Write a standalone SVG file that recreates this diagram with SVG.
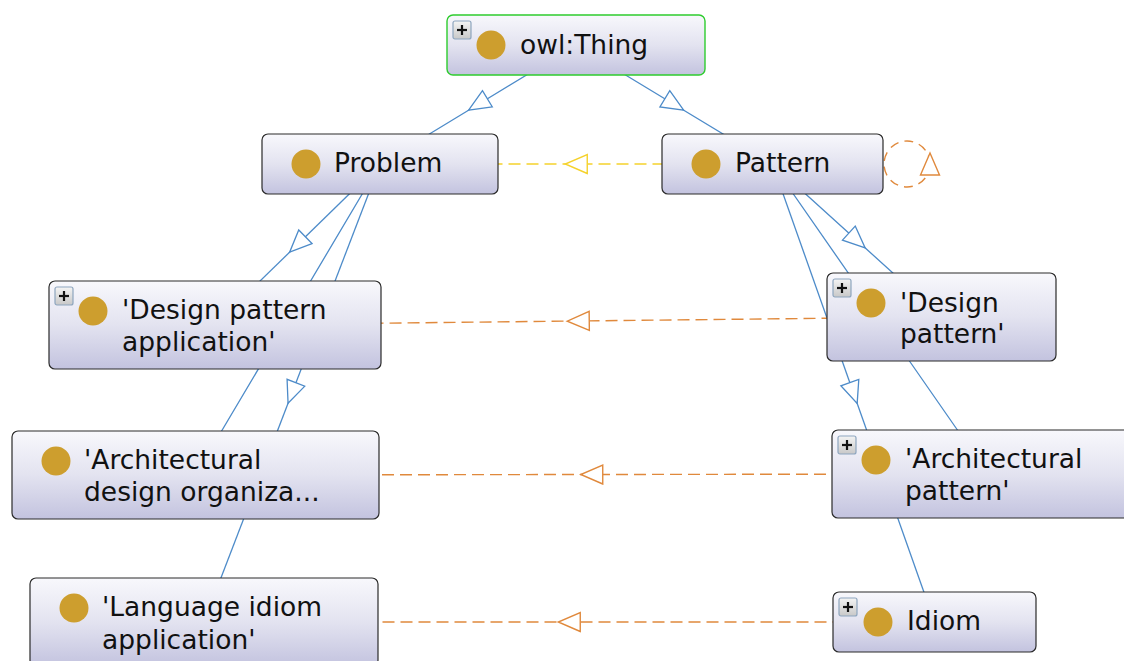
<svg xmlns="http://www.w3.org/2000/svg" width="1124" height="661" viewBox="0 0 1124 661">
<defs>
<style>
.box{fill:url(#nodeGrad);stroke:#2a2a2a;stroke-width:1.2}
.root{stroke:#2ecc2e;stroke-width:1.4}
.lbl{font-family:"DejaVu Sans","Liberation Sans",sans-serif;font-size:26.5px;fill:#111}
.dot{fill:#cd9e2d;filter:url(#soft)}
.isa{fill:none;stroke:#4d8bc9;stroke-width:1.3;marker-mid:url(#triBlue)}
.dis{fill:none;stroke:#e0893c;stroke-width:1.4;stroke-dasharray:12 6;marker-mid:url(#triOrange)}
.yel{fill:none;stroke:#f5d22c;stroke-width:1.4;stroke-dasharray:12 6;marker-mid:url(#triYellow)}
.loop{fill:none;stroke:#e0893c;stroke-width:1.4;stroke-dasharray:9 6}
.pbox{fill:url(#plusGrad);stroke:#8ea6bf;stroke-width:1.2}
.pl{stroke:#111;stroke-width:2.2}
</style>
<linearGradient id="nodeGrad" x1="0" y1="0" x2="0" y2="1">
<stop offset="0" stop-color="#f8f8fc"/>
<stop offset="0.5" stop-color="#e3e3f0"/>
<stop offset="1" stop-color="#c3c3df"/>
</linearGradient>
<linearGradient id="plusGrad" x1="0" y1="0" x2="0" y2="1">
<stop offset="0" stop-color="#f4f4f4"/>
<stop offset="1" stop-color="#c8c8c8"/>
</linearGradient>
<filter id="soft" x="-20%" y="-20%" width="140%" height="140%"><feGaussianBlur stdDeviation="0.7"/></filter>
<marker id="triBlue" markerUnits="userSpaceOnUse" orient="auto" refX="0" refY="0" markerWidth="30" markerHeight="30" overflow="visible">
<path d="M -11 -9.5 L 11 0 L -11 9.5 Z" fill="#fff" stroke="#4d8bc9" stroke-width="1.3"/>
</marker>
<marker id="triOrange" markerUnits="userSpaceOnUse" orient="auto" refX="0" refY="0" markerWidth="30" markerHeight="30" overflow="visible">
<path d="M -11 -9.5 L 11 0 L -11 9.5 Z" fill="#fff" stroke="#e0893c" stroke-width="1.4"/>
</marker>
<marker id="triYellow" markerUnits="userSpaceOnUse" orient="auto" refX="0" refY="0" markerWidth="30" markerHeight="30" overflow="visible">
<path d="M -11 -9.5 L 11 0 L -11 9.5 Z" fill="#fff" stroke="#f5d22c" stroke-width="1.4"/>
</marker>
<g id="plus">
<rect class="pbox" x="0" y="0" width="18" height="18" rx="2"/>
<line class="pl" x1="4" y1="9" x2="14" y2="9"/>
<line class="pl" x1="9" y1="4" x2="9" y2="14"/>
</g>
</defs>
<rect width="1124" height="661" fill="#fff"/>
<g id="connectors">
<path class="isa" d="M 576 45 L 478 104.5 L 380 164"/>
<path class="isa" d="M 576 45 L 674.25 104.5 L 772.5 164"/>
<path class="isa" d="M 380 164 L 297.5 244.5 L 215 325"/>
<path class="isa" d="M 380 164 L 287.75 319.5 L 195.5 475"/>
<path class="isa" d="M 380 164 L 292 393 L 204 622"/>
<path class="isa" d="M 772.5 164 L 857 240.5 L 941.5 317"/>
<path class="isa" d="M 772.5 164 L 880.25 319 L 988 474"/>
<path class="isa" d="M 772.5 164 L 853.5 393 L 934.5 622"/>
<path class="yel" d="M 772.5 164 L 576.25 164 L 380 164"/>
<path class="dis" d="M 941.5 317 L 578.25 321 L 215 325"/>
<path class="dis" d="M 988 474 L 591.75 474.5 L 195.5 475"/>
<path class="dis" d="M 934.5 622 L 569.25 622 L 204 622"/>
<circle class="loop" cx="907" cy="164" r="23"/>
<path d="M 930 153 L 939.5 175 L 920.5 175 Z" fill="#fff" stroke="#e0893c" stroke-width="1.4"/>
</g>
<g id="owlThing">
<rect class="box root" x="447" y="15" width="258" height="60" rx="6"/>
<use href="#plus" x="453" y="21"/>
<circle class="dot" cx="491" cy="45" r="14.5"/>
<text class="lbl" x="520" y="54">owl:Thing</text>
</g>
<g id="problem">
<rect class="box" x="262" y="134" width="236" height="60" rx="6"/>
<circle class="dot" cx="306" cy="164" r="14.5"/>
<text class="lbl" x="334" y="172">Problem</text>
</g>
<g id="pattern">
<rect class="box" x="662" y="134" width="221" height="60" rx="6"/>
<circle class="dot" cx="706" cy="164" r="14.5"/>
<text class="lbl" x="735" y="172">Pattern</text>
</g>
<g id="designPatternApplication">
<rect class="box" x="49" y="281" width="332" height="88" rx="6"/>
<use href="#plus" x="55" y="287"/>
<circle class="dot" cx="93" cy="311" r="14.5"/>
<text class="lbl" x="122" y="319">'Design pattern</text>
<text class="lbl" x="122" y="351">application'</text>
</g>
<g id="designPattern">
<rect class="box" x="827" y="273" width="229" height="88" rx="6"/>
<use href="#plus" x="833" y="279"/>
<circle class="dot" cx="871" cy="303" r="14.5"/>
<text class="lbl" x="900" y="312">'Design</text>
<text class="lbl" x="900" y="343">pattern'</text>
</g>
<g id="architecturalDesignOrganization">
<rect class="box" x="12" y="431" width="367" height="88" rx="6"/>
<circle class="dot" cx="56" cy="461" r="14.5"/>
<text class="lbl" x="84" y="469">'Architectural</text>
<text class="lbl" x="84" y="501">design organiza...</text>
</g>
<g id="architecturalPattern">
<rect class="box" x="832" y="430" width="320" height="88" rx="6"/>
<use href="#plus" x="838" y="436"/>
<circle class="dot" cx="876" cy="460" r="14.5"/>
<text class="lbl" x="905" y="468">'Architectural</text>
<text class="lbl" x="905" y="500">pattern'</text>
</g>
<g id="languageIdiomApplication">
<rect class="box" x="30" y="578" width="348" height="88" rx="6"/>
<circle class="dot" cx="74" cy="608" r="14.5"/>
<text class="lbl" x="102" y="616">'Language idiom</text>
<text class="lbl" x="102" y="649">application'</text>
</g>
<g id="idiom">
<rect class="box" x="833" y="592" width="203" height="60" rx="6"/>
<use href="#plus" x="839" y="598"/>
<circle class="dot" cx="878" cy="622" r="14.5"/>
<text class="lbl" x="907" y="630">Idiom</text>
</g>
</svg>
